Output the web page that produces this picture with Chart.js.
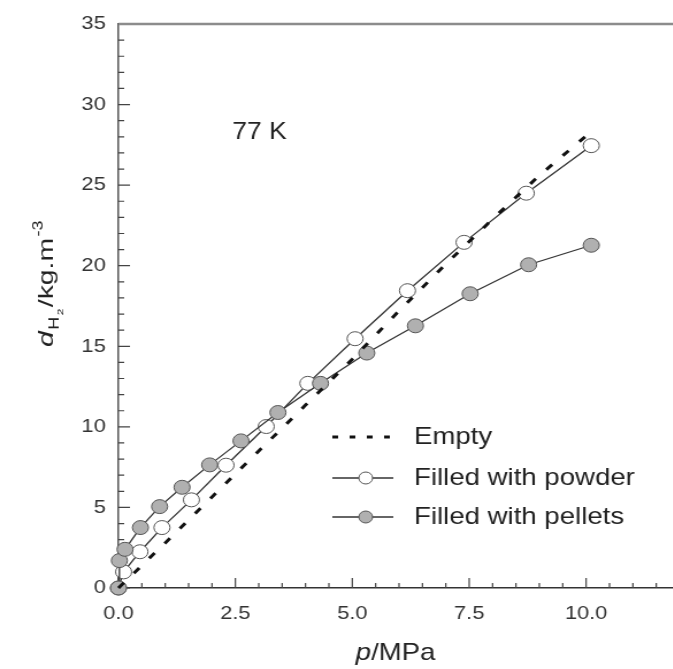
<!DOCTYPE html>
<html>
<head>
<meta charset="utf-8">
<script src="https://cdn.jsdelivr.net/npm/chart.js@4.4.0/dist/chart.umd.min.js"></script>
<style>
html, body { margin: 0; padding: 0; overflow: hidden; background: #fff; }
#wrap { width: 600px; height: 669px; transform: scaleX(1.15); transform-origin: 0 0; }
</style>
</head>
<body>
<div id="wrap"><canvas id="c" width="600" height="669"></canvas></div>
<script>
// 77 K の水素密度 p / MPa -> d / kg m-3
var emptyP = [0, 1, 2, 3, 4, 5, 6, 7, 8, 9, 10.1];
var emptyD = [0, 2.8, 5.65, 8.5, 11.35, 14.2, 17.2, 20.1, 22.9, 25.6, 28.3];

var powderP = [0, 0.11, 0.46, 0.93, 1.56, 2.30, 3.16, 4.05, 5.06, 6.18, 7.39, 8.72, 10.11];
var powderD = [0, 1.0, 2.25, 3.75, 5.47, 7.62, 10.02, 12.7, 15.47, 18.45, 21.45, 24.5, 27.45];

var pelletP = [0, 0.02, 0.14, 0.47, 0.88, 1.36, 1.95, 2.62, 3.41, 4.32, 5.31, 6.35, 7.52, 8.77, 10.11];
var pelletD = [0, 1.7, 2.4, 3.75, 5.05, 6.25, 7.64, 9.13, 10.89, 12.7, 14.58, 16.27, 18.26, 20.06, 21.27];

var xTicks = [0, 2.5, 5, 7.5, 10];
var yTicks = [0, 5, 10, 15, 20, 25, 30, 35];

var FONT = "'Liberation Sans', Arial, sans-serif";

function pts(xs, ys) {
    return xs.map(function (x, i) { return { x: x, y: ys[i] }; });
}

// 目盛り(内向き)・上枠・テキスト・凡例
var decor = {
    id: 'decor',
    beforeDatasetsDraw: function (chart) {
        var ctx = chart.ctx, a = chart.chartArea;
        var xs = chart.scales.x, ys = chart.scales.y;
        ctx.save();
        ctx.strokeStyle = '#444';
        ctx.lineWidth = 1.2;
        ctx.beginPath();
        for (var i = 0; i <= 24; i++) {
            var px = xs.getPixelForValue(i * 0.5);
            var len = (i % 5 === 0) ? 10 : 5;
            ctx.moveTo(px, a.bottom);
            ctx.lineTo(px, a.bottom - len);
        }
        for (var j = 0; j <= 35; j++) {
            var py = ys.getPixelForValue(j);
            var l2 = (j % 5 === 0) ? 10 : 5;
            ctx.moveTo(a.left, py);
            ctx.lineTo(a.left + l2, py);
        }
        ctx.stroke();
        // 上枠
        ctx.strokeStyle = '#8c8c8c';
        ctx.lineWidth = 2.5;
        ctx.beginPath();
        ctx.moveTo(a.left, a.top);
        ctx.lineTo(chart.width, a.top);
        ctx.stroke();
        ctx.restore();
    },
    afterDraw: function (chart) {
        var ctx = chart.ctx;
        var ds = chart.data.datasets;
        ctx.save();
        ctx.fillStyle = '#222';
        ctx.textBaseline = 'middle';

        // 77 K
        ctx.font = '23px ' + FONT;
        ctx.textAlign = 'left';
        ctx.fillText('77 K', 202, 133);

        // x title
        ctx.font = 'italic 24px ' + FONT;
        var wp = ctx.measureText('p').width;
        ctx.font = '24px ' + FONT;
        var wr = ctx.measureText('/MPa').width;
        var x0 = 344 - (wp + wr) / 2;
        ctx.font = 'italic 24px ' + FONT;
        ctx.fillText('p', x0, 653);
        ctx.font = '24px ' + FONT;
        ctx.fillText('/MPa', x0 + wp, 653);

        // y title (rotated)
        var parts = [
            { t: 'd', f: 'italic 19px ', dy: 0 },
            { t: 'H', f: '12px ', dy: 5 },
            { t: '2', f: '8px ', dy: 9 },
            { t: '/kg.m', f: '19px ', dy: 0 },
            { t: '-3', f: '12px ', dy: -9 }
        ];
        var total = 0;
        parts.forEach(function (p) {
            ctx.font = p.f + FONT;
            p.w = ctx.measureText(p.t).width + 1;
            total += p.w;
        });
        ctx.translate(46, 347);
        ctx.rotate(-Math.PI / 2);
        ctx.scale(128 / total, 1);
        ctx.textBaseline = 'alphabetic';
        var cx = 0;
        parts.forEach(function (p) {
            ctx.font = p.f + FONT;
            ctx.fillText(p.t, cx, p.dy);
            cx += p.w;
        });
        ctx.setTransform(1, 0, 0, 1, 0, 0);

        // 凡例
        var rows = [{ i: 0, y: 437 }, { i: 2, y: 478 }, { i: 1, y: 517 }];
        ctx.textBaseline = 'middle';
        ctx.font = '24px ' + FONT;
        rows.forEach(function (r) {
            var d = ds[r.i];
            ctx.save();
            ctx.strokeStyle = d.borderColor;
            ctx.lineWidth = d.borderWidth;
            if (d.borderDash) ctx.setLineDash([5, 10]);
            ctx.beginPath();
            ctx.moveTo(289, r.y);
            ctx.lineTo(342, r.y);
            ctx.stroke();
            ctx.restore();
            if (d.pointRadius > 0) {
                ctx.beginPath();
                ctx.arc(318, r.y, 6, 0, Math.PI * 2);
                ctx.fillStyle = d.pointBackgroundColor;
                ctx.fill();
                ctx.strokeStyle = d.pointBorderColor;
                ctx.lineWidth = d.pointBorderWidth;
                ctx.stroke();
            }
            ctx.fillStyle = '#222';
            ctx.fillText(d.label, 360, r.y);
        });
        ctx.restore();
    }
};

var chart = new Chart(document.getElementById('c'), {
    type: 'scatter',
    data: {
        datasets: [{
            label: 'Empty',
            data: pts(emptyP, emptyD),
            showLine: true,
            borderColor: '#111',
            borderWidth: 3,
            borderDash: [7, 13],
            pointRadius: 0,
            clip: false
        }, {
            label: 'Filled with pellets',
            data: pts(pelletP, pelletD),
            showLine: true,
            borderColor: '#333',
            borderWidth: 1.3,
            pointRadius: 7,
            pointBackgroundColor: '#b0b0b0',
            pointBorderColor: '#555',
            pointBorderWidth: 1,
            clip: false
        }, {
            label: 'Filled with powder',
            data: pts(powderP, powderD),
            showLine: true,
            borderColor: '#333',
            borderWidth: 1.3,
            pointRadius: 7,
            pointBackgroundColor: '#fff',
            pointBorderColor: '#555',
            pointBorderWidth: 1,
            clip: false
        }]
    },
    options: {
        responsive: false,
        animation: false,
        events: [],
        layout: { padding: { top: 24, right: 9, bottom: 0, left: 0 } },
        plugins: {
            legend: { display: false },
            tooltip: { enabled: false }
        },
        scales: {
            x: {
                type: 'linear',
                min: 0,
                max: 12,
                grid: { display: false, drawTicks: false },
                border: { display: true, color: '#333', width: 1.5 },
                ticks: {
                    padding: 14,
                    color: '#333',
                    maxRotation: 0,
                    font: { family: FONT, size: 19 },
                    callback: function (v) { return v.toFixed(1); }
                },
                afterBuildTicks: function (s) {
                    s.ticks = xTicks.map(function (v) { return { value: v }; });
                },
                afterFit: function (s) { s.height = 81; }
            },
            y: {
                min: 0,
                max: 35,
                grid: { display: false, drawTicks: false },
                border: { display: true, color: '#555', width: 1.5 },
                ticks: {
                    padding: 11,
                    color: '#333',
                    font: { family: FONT, size: 19 }
                },
                afterBuildTicks: function (s) {
                    s.ticks = yTicks.map(function (v) { return { value: v }; });
                },
                afterFit: function (s) { s.width = 103; }
            }
        }
    },
    plugins: [decor]
});
</script>
</body>
</html>
